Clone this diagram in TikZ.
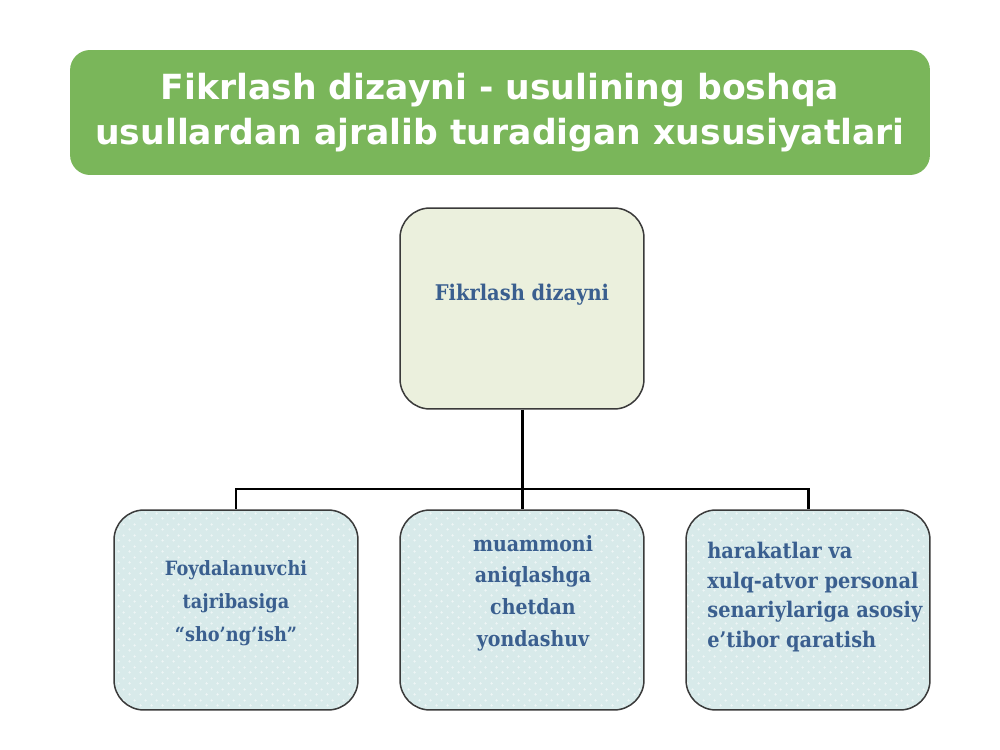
\documentclass[tikz,border=0pt]{standalone}
\usepackage{fontspec}
\usetikzlibrary{patterns.meta}
\setmainfont{DejaVu Serif}
\newfontfamily\titlefont{DejaVu Sans}
\newfontfamily\bodyfont[FakeStretch=0.9]{DejaVu Serif}
\definecolor{titlegreen}{HTML}{7AB65A}
\definecolor{topfill}{HTML}{EBF0DD}
\definecolor{lowfill}{HTML}{D8EAEA}
\definecolor{lowdot}{HTML}{EEF6F6}
\definecolor{textblue}{HTML}{3A5F8F}
\definecolor{edgegray}{HTML}{3A3A3A}
\tikzdeclarepattern{name=lowdots, type=uncolored, bounding box={(0pt,0pt) and (6pt,6pt)}, tile size={(6pt,6pt)},
  code={\fill (1.5pt,1.5pt) circle (0.75pt); \fill (4.5pt,4.5pt) circle (0.75pt);}}
\tikzset{
  titlebox/.style={fill=titlegreen, rounded corners=0.4cm, minimum width=17.2cm, minimum height=2.5cm, inner sep=0pt, text=white, align=center, font=\titlefont\bfseries\fontsize{19.7}{26}\selectfont},
  topbox/.style={draw=edgegray, line width=0.85pt, fill=topfill, rounded corners=0.6cm, minimum width=4.88cm, minimum height=4.02cm, inner sep=0pt},
  lowbox/.style={preaction={fill=lowfill}, preaction={pattern=lowdots, pattern color=lowdot}, draw=edgegray, line width=0.85pt, rounded corners=0.6cm, minimum width=4.88cm, minimum height=4cm, inner sep=0pt},
  lbl/.style={text=textblue, inner sep=0pt, font=\bodyfont\bfseries},
  conn/.style={draw=black, line width=1.7pt}
}
\begin{document}
\begin{tikzpicture}[x=0.02cm, y=-0.02cm]
\useasboundingbox (0,0) rectangle (1000,750);
\fill[white] (0,0) rectangle (1000,750);
\node[titlebox] (title) at (500,112.5) {Fikrlash dizayni - usulining boshqa\\usullardan ajralib turadigan xususiyatlari};
\node[topbox] (top) at (522,308.5) {};
\node[lbl, font=\bodyfont\bfseries\fontsize{12.3}{16}\selectfont] (toplbl) at (522,295) {Fikrlash dizayni};
\node[lowbox] (b1) at (236,610) {};
\node[lowbox] (b2) at (522,610) {};
\node[lowbox] (b3) at (808,610) {};
\node[lbl, align=center, font=\bodyfont\bfseries\fontsize{11.2}{18.9}\selectfont] (l1) at (236,603) {Foydalanuvchi\\tajribasiga\\“sho’ng’ish”};
\node[lbl, align=center, font=\bodyfont\bfseries\fontsize{12}{18}\selectfont] (l2) at (533,593) {muammoni\\aniqlashga\\chetdan\\yondashuv};
\node[lbl, align=left, anchor=west, font=\bodyfont\bfseries\fontsize{12.25}{17}\selectfont] (l3) at (707,597) {harakatlar va\\xulq-atvor personal\\senariylariga asosiy\\e’tibor qaratish};
\coordinate (j) at (522,489);
\draw[conn] (top.south) -- (j);
\draw[conn] (j) -| (b1.north);
\draw[conn] (j) -- (b2.north);
\draw[conn] (j) -| (b3.north);
\end{tikzpicture}
\end{document}
